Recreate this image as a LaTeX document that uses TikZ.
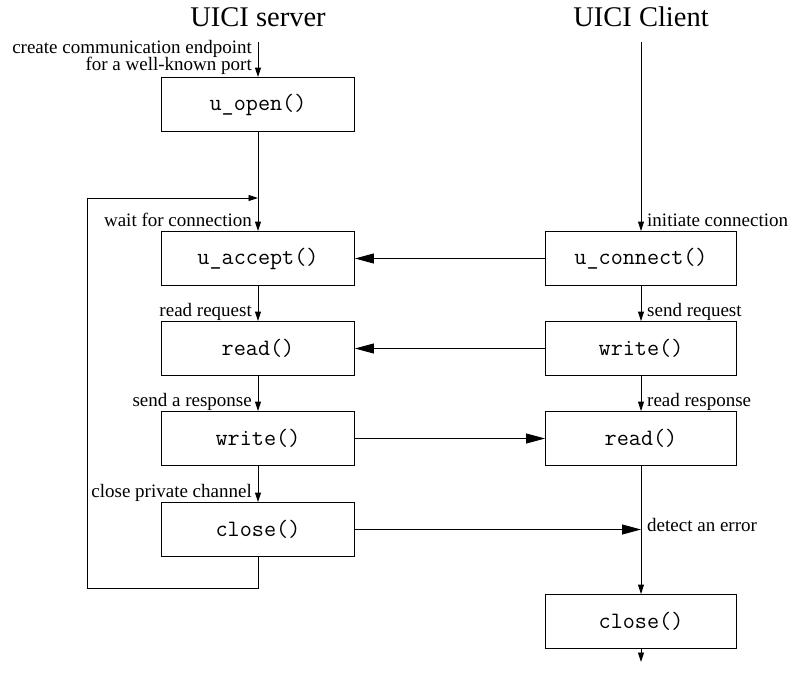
\documentclass[tikz,border=0pt]{standalone}
\usepackage{fontspec}
\setmainfont{Liberation Serif}
\usetikzlibrary{arrows.meta,positioning}
\tikzset{call/.style={draw, rectangle, line width=0.9pt,
		minimum height=54pt, minimum width=193pt,
		font=\fontsize{23.5}{26}\selectfont\ttfamily},
	note/.style={font=\fontsize{19}{17.5}\selectfont, inner sep=2pt,
		text height=0.7em, text depth=0.25em},
	heading/.style={font=\fontsize{28.5}{30}\selectfont},
	arrow/.style={draw,line width=0.9pt,-{Triangle[length=9.5pt,width=6pt]}},
	bigarrow/.style={draw,line width=0.9pt,-{Triangle[length=19pt,width=10pt]}},
	line/.style={draw,line width=0.9pt,-}}

\begin{document}
\begin{tikzpicture}[x=1pt,y=-1pt,node distance=90pt]
		\useasboundingbox (0,0) rectangle (792,675);
		% server side
		\node [heading](servertitle) at (258,17){UICI server};
		\coordinate (servertop) at (258,42);
		\node [call](open) at (258,104.5){u\_open()};
		\node [call, below of=open, node distance=154pt](accept){u\_accept()};
		\node [call, below of=accept](sread){read()};
		\node [call, below of=sread](swrite){write()};
		\node [call, below of=swrite, node distance=91pt](sclose){close()};
		\coordinate (loopjoin) at (258,198);
		\coordinate (loopcorner) at (87,588);
		
		% client side
		\node [heading](clienttitle) at (641,17){UICI Client};
		\coordinate (clienttop) at (641,42);
		\node [call, minimum width=191pt](connect) at (641,258.5){u\_connect()};
		\node [call, minimum width=191pt, below of=connect](cwrite){write()};
		\node [call, minimum width=191pt, below of=cwrite](cread){read()};
		\node [call, minimum width=191pt, below of=cread, node distance=183pt](cclose){close()};
		\coordinate (clientend) at (641,662);
		\coordinate (error) at (cread |- sclose);
		
		\draw [arrow] (servertop)--(open);
		\draw [arrow] (open)--(accept);
		\draw [arrow] (accept)--(sread);
		\draw [arrow] (sread)--(swrite);
		\draw [arrow] (swrite)--(sclose);
		\draw [arrow] (sclose.south)|-(loopcorner)|-(loopjoin);
		
		\draw [arrow] (clienttop)--(connect);
		\draw [arrow] (connect)--(cwrite);
		\draw [arrow] (cwrite)--(cread);
		\draw [line] (cread)--(error);
		\draw [arrow] (error)--(cclose);
		\draw [arrow] (cclose)--(clientend);
		
		\draw [bigarrow] (connect)--(accept);
		\draw [bigarrow] (cwrite)--(sread);
		\draw [bigarrow] (swrite)--(cread);
		\draw [bigarrow] (sclose)--(error);
		
		% labels
		\node [note, anchor=south east, align=right, text height=, text depth=, xshift=-4pt] at (open.north)
		{create communication endpoint\\for a well-known port};
		\node [note, anchor=south east, xshift=-4pt] at (accept.north){wait for connection};
		\node [note, anchor=south east, xshift=-4pt] at (sread.north){read request};
		\node [note, anchor=south east, xshift=-4pt] at (swrite.north){send a response};
		\node [note, anchor=south east, xshift=-4pt] at (sclose.north){close private channel};
		\node [note, anchor=south west, xshift=4pt] at (connect.north){initiate connection};
		\node [note, anchor=south west, xshift=4pt] at (cwrite.north){send request};
		\node [note, anchor=south west, xshift=4pt] at (cread.north){read response};
		\node [note, anchor=west, xshift=4pt] at (error){detect an error};
	\end{tikzpicture}
\end{document}
